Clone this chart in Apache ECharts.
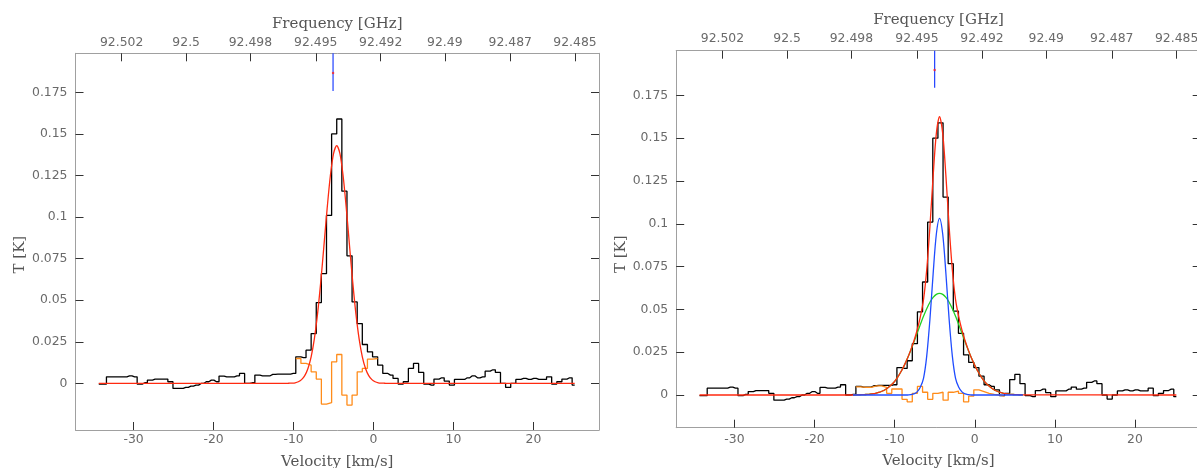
<!DOCTYPE html>
<html>
<head>
<meta charset="utf-8">
<script src="https://cdn.jsdelivr.net/npm/echarts@6.0.0/dist/echarts.min.js"></script>
<style>
  html, body { margin: 0; padding: 0; background: #ffffff; }
  #chart { width: 1197px; height: 468px; }
</style>
</head>
<body>
<div id="chart"></div>
<script>
// ---------------- DATA ----------------
// Channel centre velocities [km/s]
const velocity = [
  -34.36, -33.72, -33.08, -32.44, -31.80, -31.16, -30.52, -29.88, -29.24, -28.60,
  -27.96, -27.32, -26.68, -26.04, -25.40, -24.76, -24.12, -23.48, -22.84, -22.20,
  -21.56, -20.92, -20.28, -19.64, -19.00, -18.36, -17.72, -17.08, -16.44, -15.80,
  -15.16, -14.52, -13.88, -13.24, -12.60, -11.96, -11.32, -10.68, -10.04, -9.40,
  -8.76, -8.12, -7.48, -6.84, -6.20, -5.56, -4.92, -4.28, -3.64, -3.00,
  -2.36, -1.72, -1.08, -0.44, 0.20, 0.84, 1.48, 2.12, 2.76, 3.40,
  4.04, 4.68, 5.32, 5.96, 6.60, 7.24, 7.88, 8.52, 9.16, 9.80,
  10.44, 11.08, 11.72, 12.36, 13.00, 13.64, 14.28, 14.92, 15.56, 16.20,
  16.84, 17.48, 18.12, 18.76, 19.40, 20.04, 20.68, 21.32, 21.96, 22.60,
  23.24, 23.88, 24.52, 25.16
];
// Observed spectrum T [K]
const spectrumT = [
  -0.0004, -0.0004, 0.0040, 0.0040, 0.0040, 0.0040, 0.0046, 0.0040, -0.0004, 0.0004,
  0.0020, 0.0026, 0.0026, 0.0026, 0.0010, -0.0030, -0.0030, -0.0024, -0.0016, -0.0010,
  0.0000, 0.0010, 0.0020, 0.0010, 0.0044, 0.0040, 0.0040, 0.0046, 0.0060, 0.0000,
  0.0004, 0.0050, 0.0046, 0.0046, 0.0054, 0.0056, 0.0056, 0.0056, 0.0060, 0.0160,
  0.0155, 0.0200, 0.0300, 0.0486, 0.0660, 0.1010, 0.1500, 0.1590, 0.1156, 0.0767,
  0.0490, 0.0360, 0.0234, 0.0190, 0.0160, 0.0110, 0.0060, 0.0050, 0.0030, -0.0004,
  0.0010, 0.0090, 0.0120, 0.0066, -0.0004, -0.0010, 0.0026, 0.0034, 0.0014, -0.0010,
  0.0024, 0.0024, 0.0034, 0.0046, 0.0034, 0.0040, 0.0074, 0.0082, 0.0066, 0.0000,
  -0.0024, 0.0000, 0.0024, 0.0030, 0.0024, 0.0030, 0.0024, 0.0024, 0.0040, -0.0004,
  0.0010, 0.0026, 0.0034, -0.0010
];

// Left panel: single-component fit (red)
const leftFitVelocity = [
  -34.36, -11.0, -10.6, -10.2, -9.8, -9.4, -9.0, -8.6, -8.2, -7.8, -7.4, -7.0, -6.6, -6.2,
  -5.8, -5.4, -5.0, -4.6, -4.2, -3.8, -3.4, -3.0, -2.6, -2.2, -1.8, -1.4, -1.0,
  -0.6, -0.2, 0.2, 0.6, 1.0, 1.4, 1.8, 25.16
];
const leftFitT = [
  0.0000, 0.0000, 0.0001, 0.0002, 0.0004, 0.0010, 0.0023, 0.0047, 0.0090, 0.0160, 0.0268, 0.0418, 0.0609, 0.0828,
  0.1051, 0.1247, 0.1382, 0.1430, 0.1382, 0.1247, 0.1051, 0.0828, 0.0609, 0.0418, 0.0268, 0.0160, 0.0090,
  0.0047, 0.0023, 0.0010, 0.0004, 0.0002, 0.0001, 0.0000, 0.0000
];
// Left panel residual (orange), channel edges and values
const leftResidualEdges = [
  -9.72, -9.08, -8.44, -7.80, -7.16, -6.52, -5.88, -5.24, -4.60, -3.96,
  -3.32, -2.68, -2.04, -1.40, -0.76, -0.12, 0.52
];
const leftResidualT = [
  0.0150, 0.0120, 0.0110, 0.0070, 0.0026, -0.0124, -0.0116, 0.0130, 0.0174, -0.0070,
  -0.0130, -0.0070, 0.0070, 0.0090, 0.0146, 0.0150
];

// Right panel: two-component fit
const rightFitVelocity = [
  -15.2, -14.8, -14.4, -14.0, -13.6, -13.2, -12.8, -12.4, -12.0, -11.6,
  -11.2, -10.8, -10.4, -10.0, -9.6, -9.2, -8.8, -8.4, -8.0, -7.6,
  -7.2, -6.8, -6.4, -6.0, -5.6, -5.2, -4.8, -4.4, -4.0, -3.6,
  -3.2, -2.8, -2.4, -2.0, -1.6, -1.2, -0.8, -0.4, 0.0, 0.4,
  0.8, 1.2, 1.6, 2.0, 2.4, 2.8, 3.2, 3.6, 4.0, 4.4,
  4.8, 5.2, 5.6, 6.0
];
const rightNarrowT = [ // blue
  0, 0, 0, 0, 0, 0, 0, 0, 0, 0,
  0, 0, 0, 0, 0, 0, 0, 0, 0.0002, 0.0006,
  0.0018, 0.0045, 0.0097, 0.0227, 0.0441, 0.0707, 0.0939, 0.1032, 0.0939, 0.0707,
  0.0441, 0.0227, 0.0097, 0.0045, 0.0018, 0.0006, 0.0002, 0, 0, 0,
  0, 0, 0, 0, 0, 0, 0, 0, 0, 0,
  0, 0, 0, 0
];
const rightBroadT = [ // green
  0.0000, 0.0001, 0.0001, 0.0002, 0.0003, 0.0004, 0.0007, 0.0010, 0.0015, 0.0022,
  0.0031, 0.0044, 0.0060, 0.0080, 0.0106, 0.0137, 0.0173, 0.0214, 0.0260, 0.0309,
  0.0360, 0.0411, 0.0460, 0.0504, 0.0542, 0.0570, 0.0588, 0.0594, 0.0588, 0.0570,
  0.0542, 0.0504, 0.0460, 0.0411, 0.0360, 0.0309, 0.0260, 0.0214, 0.0173, 0.0137,
  0.0106, 0.0080, 0.0060, 0.0044, 0.0031, 0.0022, 0.0015, 0.0010, 0.0007, 0.0004,
  0.0003, 0.0002, 0.0001, 0.0001
];
const rightTotalT = [ // red
  0.0000, 0.0001, 0.0001, 0.0002, 0.0003, 0.0004, 0.0007, 0.0010, 0.0015, 0.0022,
  0.0031, 0.0044, 0.0060, 0.0080, 0.0106, 0.0137, 0.0173, 0.0214, 0.0262, 0.0315,
  0.0378, 0.0456, 0.0557, 0.0731, 0.0983, 0.1277, 0.1527, 0.1626, 0.1527, 0.1277,
  0.0983, 0.0731, 0.0557, 0.0456, 0.0378, 0.0315, 0.0262, 0.0214, 0.0173, 0.0137,
  0.0106, 0.0080, 0.0060, 0.0044, 0.0031, 0.0022, 0.0015, 0.0010, 0.0007, 0.0004,
  0.0003, 0.0002, 0.0001, 0.0001
];
const baselineVelocity = [-34.36, 25.16];
// Right panel residual (orange)
const rightResidualEdges = [
  -14.84, -14.20, -13.56, -12.92, -12.28, -11.64, -11.00, -10.36, -9.72, -9.08,
  -8.44, -7.80, -7.16, -6.52, -5.88, -5.24, -4.60, -3.96, -3.32, -2.68,
  -2.04, -1.40, -0.76, -0.12, 0.52, 1.16, 1.80, 2.44, 3.08, 3.72
];
const rightResidualT = [
  0.0048, 0.0045, 0.0045, 0.0053, 0.0053, 0.0045, 0.0010, 0.0035, 0.0035, -0.0025,
  -0.0040, 0.0010, 0.0050, 0.0016, -0.0025, 0.0010, 0.0016, -0.0030, 0.0016, 0.0023,
  0.0010, -0.0040, -0.0006, 0.0030, 0.0020, 0.0010, 0.0004, 0.0000, -0.0006
];

// Line-position markers (one per panel)
const markerVelocity = [-5.06, -5.01];
const markerTopT = [0.1985, 0.2011];
const markerBottomT = [0.1758, 0.1795];
const markerDotT = [0.1867, 0.1898];

// Tick labels
const velocityTicks = [-30, -20, -10, 0, 10, 20];
const yTickValues = [0, 0.025, 0.05, 0.075, 0.1, 0.125, 0.15, 0.175];
const yTickLabels = ['0', '0.025', '0.05', '0.075', '0.1', '0.125', '0.15', '0.175'];
const freqTickLabels = ['92.502', '92.5', '92.498', '92.495', '92.492', '92.49', '92.487', '92.485'];
const freqTickVelocity = [-31.5, -23.43, -15.4, -7.22, 0.9, 8.92, 17.1, 25.2];

// Axis ranges per panel
const velocityRange = [-37.27, 28.2];
const tRange = [[-0.028, 0.1985], [-0.0191, 0.2011]];

// ---------------- CHART ----------------
const pairs = (xs, ys) => ys.map((y, i) => [xs[i], y]);
const stepPairs = (edges, vals) => {
  const out = vals.map((v, i) => [edges[i], v]);
  out.push([edges[vals.length], vals[vals.length - 1]]);
  return out;
};
const lookup = (vals, labels) => (v) => {
  const i = vals.findIndex(t => Math.abs(t - v) < 1e-9);
  return i >= 0 ? labels[i] : '';
};

const tickFont = { fontFamily: 'DejaVu Sans', fontSize: 12.4, color: '#6a6a6a' };
const nameFont = (pad) => ({ fontFamily: 'DejaVu Serif', fontSize: 15, color: '#555555', padding: pad || 0 });
const frameLine = { show: true, onZero: false, lineStyle: { color: '#a0a0a0', width: 1 } };
const tickStyle = (vals) => ({ show: true, inside: true, length: 8, customValues: vals, lineStyle: { color: '#333333', width: 1 } });

const grids = [
  { left: 75.5, top: 53.3, width: 523.5, height: 376.7, outerBoundsMode: 'none' },
  { left: 676.2, top: 50.7, width: 524.5, height: 377, outerBoundsMode: 'none' }
];
const nameGaps = [
  { bottom: 25, top: 22, left: 48 },
  { bottom: 26, top: 23, left: 48 }
];
const yNamePadding = [[0, 26, 0, 0], [0, 30, 0, 0]];
const labelMargins = [
  { bottom: 4, top: 5 },
  { bottom: 6, top: 6 }
];

const xAxes = [], yAxes = [];
[0, 1].forEach(p => {
  xAxes.push({
    type: 'value', gridIndex: p, position: 'bottom',
    min: velocityRange[0], max: velocityRange[1],
    name: 'Velocity [km/s]', nameLocation: 'middle', nameGap: nameGaps[p].bottom, nameTextStyle: nameFont(),
    axisLine: frameLine, axisTick: tickStyle(velocityTicks),
    axisLabel: Object.assign({ customValues: velocityTicks, margin: labelMargins[p].bottom, formatter: (v) => String(v) }, tickFont),
    splitLine: { show: false }
  });
  xAxes.push({
    type: 'value', gridIndex: p, position: 'top',
    min: velocityRange[0], max: velocityRange[1],
    name: 'Frequency [GHz]', nameLocation: 'middle', nameGap: nameGaps[p].top, nameTextStyle: nameFont(),
    axisLine: frameLine, axisTick: tickStyle(freqTickVelocity),
    axisLabel: Object.assign({ customValues: freqTickVelocity, margin: labelMargins[p].top, formatter: lookup(freqTickVelocity, freqTickLabels) }, tickFont),
    splitLine: { show: false }
  });
  yAxes.push({
    type: 'value', gridIndex: p, position: 'left',
    min: tRange[p][0], max: tRange[p][1],
    name: 'T [K]', nameLocation: 'middle', nameRotate: 90, nameGap: nameGaps[p].left, nameTextStyle: nameFont(yNamePadding[p]),
    axisLine: frameLine, axisTick: tickStyle(yTickValues),
    axisLabel: Object.assign({ customValues: yTickValues, margin: 8, formatter: lookup(yTickValues, yTickLabels) }, tickFont),
    splitLine: { show: false }
  });
  yAxes.push({
    type: 'value', gridIndex: p, position: 'right',
    min: tRange[p][0], max: tRange[p][1],
    axisLine: frameLine, axisTick: tickStyle(yTickValues),
    axisLabel: { show: false },
    splitLine: { show: false }
  });
});

const line = (name, xi, yi, data, color, extra) => Object.assign({
  name, type: 'line', xAxisIndex: xi, yAxisIndex: yi, data,
  showSymbol: false, symbol: 'none', animation: false, silent: true,
  lineStyle: { color, width: 1.3 }, z: 2
}, extra || {});

const series = [];
// Left panel
series.push(line('spectrum L', 0, 0, pairs(velocity, spectrumT), '#000000', { step: 'middle' }));
series.push(line('residual L', 0, 0, stepPairs(leftResidualEdges, leftResidualT), '#ff8c1a', { step: 'end' }));
series.push(line('fit L', 0, 0, pairs(leftFitVelocity, leftFitT), '#ff2a10', { smooth: 0.3 }));
series.push(line('marker L', 0, 0, [[markerVelocity[0], markerTopT[0]], [markerVelocity[0], markerBottomT[0]]], '#2040ff', { lineStyle: { color: '#2040ff', width: 1.2 } }));
series.push({ type: 'scatter', xAxisIndex: 0, yAxisIndex: 0, data: [[markerVelocity[0], markerDotT[0]]], symbolSize: 2.5, itemStyle: { color: '#ff2020' }, animation: false, silent: true, z: 3 });
// Right panel
series.push(line('spectrum R', 2, 2, pairs(velocity, spectrumT), '#000000', { step: 'middle' }));
series.push(line('residual R', 2, 2, stepPairs(rightResidualEdges, rightResidualT), '#ff8c1a', { step: 'end' }));
series.push(line('broad R', 2, 2, pairs(rightFitVelocity, rightBroadT), '#22d022', { smooth: 0.3 }));
series.push(line('total R', 2, 2,
  [[baselineVelocity[0], 0]].concat(pairs(rightFitVelocity, rightTotalT), [[baselineVelocity[1], 0]]),
  '#ff2a10', { smooth: 0.3 }));
series.push(line('narrow R', 2, 2, pairs(rightFitVelocity, rightNarrowT), '#1f4cff', { smooth: 0.3 }));
series.push(line('marker R', 2, 2, [[markerVelocity[1], markerTopT[1]], [markerVelocity[1], markerBottomT[1]]], '#2040ff', { lineStyle: { color: '#2040ff', width: 1.2 } }));
series.push({ type: 'scatter', xAxisIndex: 2, yAxisIndex: 2, data: [[markerVelocity[1], markerDotT[1]]], symbolSize: 2.5, itemStyle: { color: '#ff2020' }, animation: false, silent: true, z: 3 });

const chart = echarts.init(document.getElementById('chart'), null, { renderer: 'canvas' });
chart.setOption({
  backgroundColor: '#ffffff',
  animation: false,
  grid: grids,
  xAxis: xAxes,
  yAxis: yAxes,
  series
});
</script>
</body>
</html>
